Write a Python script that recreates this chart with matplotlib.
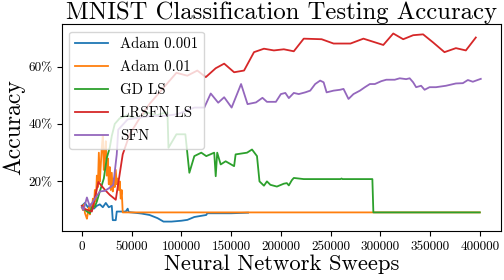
import matplotlib
matplotlib.use("Agg")
import matplotlib.pyplot as plt
from matplotlib.ticker import PercentFormatter
import numpy as np

plt.rcParams['font.family'] = 'serif'
plt.rcParams['font.serif'] = ['cmr10']
plt.rcParams['mathtext.fontset'] = 'cm'
plt.rcParams['axes.unicode_minus'] = False
plt.rcParams['axes.formatter.use_mathtext'] = True

# x values in thousands of sweeps, y in percent accuracy
adam001_x = [0, 3, 6, 9, 12, 15, 18, 21, 24, 27, 30, 31, 34, 35, 40, 44, 46, 47, 55, 60, 68, 76, 82, 90, 100, 106, 113, 125, 126, 150, 167]
adam001_y = [11.5, 12.5, 11, 12, 10.5, 11.5, 12, 11, 12.5, 11, 11.5, 6.5, 6.5, 9.5, 9.5, 9.5, 10.5, 9.3, 9.0, 8.8, 8.3, 7.2, 6.0, 6.0, 6.3, 6.6, 7.6, 8.3, 8.9, 8.9, 9.1]

adam01_x = [0, 1, 2, 3, 4, 5, 6, 7, 8, 9, 10, 11, 12, 13, 14, 15, 16, 17, 18, 19, 20, 21, 22, 23, 24, 25, 26, 27, 28, 29, 30, 31, 32, 33, 34, 35, 36, 37, 38, 39, 40, 41, 50, 100, 150, 200, 250, 300, 350, 400]
adam01_y = [11, 10, 12, 9, 8, 7, 9, 11, 8.5, 12, 10, 14, 11, 17, 13, 22, 18, 30, 20, 26, 32, 36, 24, 30, 34, 22, 28, 19, 25, 17, 23, 16.5, 21, 18, 24, 19, 21, 17, 20, 14, 17, 9.2, 9.2, 9.2, 9.2, 9.2, 9.2, 9.2, 9.2, 9.2]

gd_x = [0, 2, 5, 8, 10, 13, 15, 18, 22, 25, 28, 30, 33, 38, 45, 55, 65, 75, 84, 86, 87, 95, 104, 108, 113, 120, 125, 133, 134.5, 136, 139.5, 144.5, 153, 154.5, 166, 171, 176, 178.5, 183, 186, 189.5, 196, 203, 206, 208, 211, 213, 223, 260, 261, 262, 292, 293, 400]
gd_y = [11, 10.5, 9.5, 8.9, 11, 11.2, 13, 16.5, 21, 28.2, 31.8, 35.8, 40, 42, 43, 42, 44, 43, 44, 44, 31.7, 36.4, 36.4, 23, 28.8, 30, 28.8, 30, 21.8, 30, 25.9, 27, 25.3, 29.4, 30, 31.1, 28.8, 20, 18.5, 20, 18.8, 18.2, 19.2, 19.4, 18.6, 20.4, 21.2, 20.8, 20.8, 21, 20.8, 20.8, 9.2, 9.2]

lrsfn_x = [0, 2, 10, 16.5, 23, 28, 34, 41, 48, 58, 68, 78, 88, 95, 106, 116, 124.5, 134.5, 143, 153, 163, 173, 183, 193, 203, 213, 223, 241, 253, 270, 283, 303, 313, 323, 333, 343, 353, 364.5, 376, 386, 396]
lrsfn_y = [11.5, 10.5, 9.5, 19.8, 17.1, 15.3, 13.6, 29.4, 36.4, 42, 47, 51, 55, 57.8, 56.8, 58.6, 56.3, 59.4, 61, 58, 58.6, 65, 66.2, 65.6, 66, 65.3, 69.7, 69.5, 68, 68, 69.7, 67.5, 71.5, 69.5, 70.9, 71.2, 68.4, 65, 66.4, 65.6, 70.1]

sfn_x = [0, 1.5, 5, 8, 11.5, 18, 23, 27.5, 31.5, 35, 36.5, 46, 70, 83, 96, 113, 123, 129.5, 137, 143, 150.5, 160, 166.5, 175, 181.5, 186, 195, 200, 204.5, 208, 213, 218, 224.5, 229.5, 234.5, 239.5, 243, 246, 253, 259.5, 263, 268, 273, 279.5, 284.5, 289.5, 294.5, 301, 306, 314.5, 319.5, 326, 329.5, 333, 336, 341, 344.5, 349.5, 356, 366, 376, 383, 388, 393, 401]
sfn_y = [11, 10, 14.4, 11.2, 13.2, 16.5, 16.7, 17.7, 18.8, 29.4, 38, 41.6, 42.8, 42.8, 43.4, 45.7, 45.7, 50.6, 47.4, 49.3, 45.7, 53.9, 46.9, 47.5, 49.1, 47.7, 47.7, 50.4, 50.8, 49, 50.8, 50.4, 51, 51.6, 53.9, 55.1, 54.5, 51, 51.6, 51.9, 52.2, 48.7, 50.4, 51.6, 52.8, 53.9, 53.9, 54.9, 55.4, 55.4, 55.9, 55.6, 55.9, 54.5, 52.8, 53.3, 51.9, 52.8, 52.8, 53.3, 54.1, 54.2, 55.3, 54.7, 55.7]

series = [
    ("Adam 0.001", adam001_x, adam001_y),
    ("Adam 0.01", adam01_x, adam01_y),
    ("GD LS", gd_x, gd_y),
    ("LRSFN LS", lrsfn_x, lrsfn_y),
    ("SFN", sfn_x, sfn_y),
]

fig = plt.figure(figsize=(5.04, 2.8), dpi=100)
ax = fig.add_axes([0.123, 0.175, 0.8705, 0.739])
for label, xs, ys in series:
    ax.plot(np.array(xs) * 1000, ys, label=label, lw=1.3)

ax.yaxis.set_major_formatter(PercentFormatter(100, decimals=0))
ax.set_xticks([0, 50000, 100000, 150000, 200000, 250000, 300000, 350000, 400000])
ax.set_xticklabels(['0', '50000', '100000', '150000', '200000', '250000', '300000', '350000', '400000'])
ax.set_yticks([20, 40, 60])
ax.tick_params(labelsize=9.5)
ax.set_xlabel("Neural Network Sweeps", fontsize=16.3, labelpad=1)
ax.set_ylabel("Accuracy", fontsize=17, labelpad=2)
ax.set_title("MNIST Classification Testing Accuracy", fontsize=17.8, pad=2)
ax.legend(loc='upper left', fontsize=10.7, handlelength=2.2, labelspacing=0.62)

fig.savefig("out.png", dpi=100)
